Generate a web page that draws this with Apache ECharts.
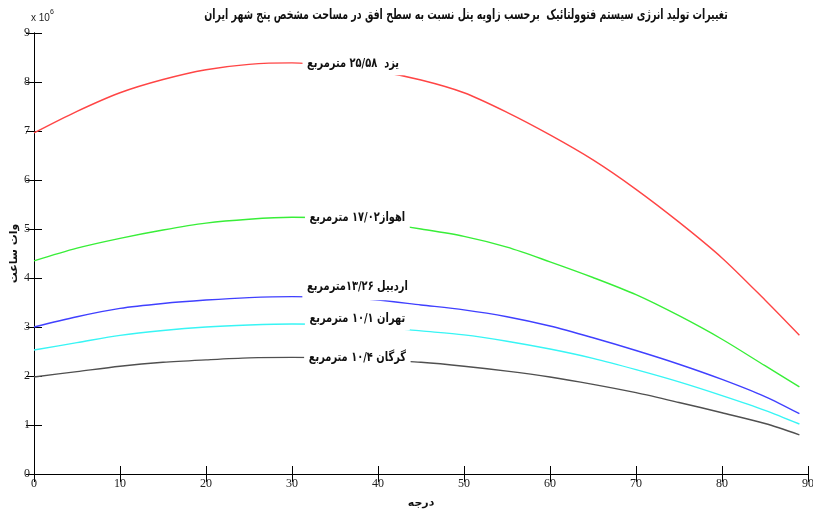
<!DOCTYPE html>
<html><head><meta charset="utf-8">
<script src="https://cdn.jsdelivr.net/npm/echarts@6/dist/echarts.min.js"></script>
<style>html,body{margin:0;padding:0;background:#fff}#c{width:813px;height:513px}</style>
</head><body><div id="c"></div>
<script>
const angles = [0,5,10,15,20,25,30,35,40,45,50,55,60,65,70,75,80,85,89];
const yazd    = [6.96,7.40,7.78,8.05,8.25,8.36,8.39,8.33,8.22,8.04,7.78,7.38,6.92,6.41,5.81,5.14,4.41,3.55,2.83];
const ahvaz   = [4.35,4.61,4.81,4.98,5.12,5.20,5.24,5.22,5.13,5.00,4.85,4.63,4.33,4.01,3.66,3.23,2.75,2.21,1.78];
const ardabil = [3.00,3.21,3.38,3.48,3.55,3.60,3.62,3.60,3.55,3.45,3.35,3.21,3.02,2.78,2.52,2.24,1.93,1.58,1.23];
const tehran  = [2.53,2.68,2.83,2.93,3.00,3.04,3.06,3.05,3.00,2.92,2.84,2.71,2.55,2.36,2.13,1.88,1.60,1.30,1.02];
const gorgan  = [1.98,2.09,2.20,2.28,2.33,2.37,2.38,2.37,2.33,2.28,2.20,2.10,1.98,1.83,1.66,1.46,1.25,1.03,0.80];
const names = ['یزد  ۲۵/۵۸ مترمربع','اهواز۱۷/۰۲ مترمربع','اردبیل ۱۳/۲۶مترمربع','تهران ۱۰/۱ مترمربع','گرگان ۱۰/۴ مترمربع'];
const titleText = 'تغییرات تولید انرژی سیستم فتوولتائیک  برحسب زاویه پنل نسبت به سطح افق در مساحت مشخص پنج شهر ایران';
const xName = 'درجه';
const yName = 'وات ساعت';

const allSeries = [yazd, ahvaz, ardabil, tehran, gorgan];
const colors = ['#ff4545','#38ee38','#4040ff','#38f5f5','#505050'];
// label placement in data coordinates (layout, not data)
const labelPos = [
  {x:37.1, y:8.37, pad:[4,6,6,6]},
  {x:37.6, y:5.23, pad:[4,6,6,6]},
  {x:37.6, y:3.83, pad:[3,6,12,6]},
  {x:37.6, y:3.18, pad:[3,6,8,6]},
  {x:37.6, y:2.38, pad:[4,6,5,6]}
];
const persianFont = 'DejaVu Sans';
const chart = echarts.init(document.getElementById('c'), null, {renderer:'canvas'});
const axisCommon = {
  type:'value', min:0,
  axisLine:{show:true, lineStyle:{color:'#000', width:1}},
  axisTick:{show:true, inside:true, length:8, lineStyle:{color:'#000'}},
  splitLine:{show:false}
};
const tickFont = 'Liberation Sans Narrow';
chart.setOption({
  animation:false,
  backgroundColor:'#fff',
  grid:{left:34, right:5, top:33, bottom:39, containLabel:false, outerBoundsMode:'none'},
  xAxis:[
    Object.assign({}, axisCommon, {max:90, interval:10, position:'bottom',
      name:xName, nameLocation:'middle', nameGap:24, nameMoveOverlap:false,
      nameTextStyle:{fontFamily:persianFont, fontWeight:'bold', fontSize:11, color:'#111'},
      axisLabel:{fontFamily:tickFont, fontSize:12, color:'#222', margin:4}}),
    Object.assign({}, axisCommon, {max:90, interval:10, position:'top', axisLabel:{show:false}})
  ],
  yAxis:[
    Object.assign({}, axisCommon, {max:9, interval:1, position:'left',
      name:yName, nameLocation:'middle', nameGap:14, nameRotate:90, nameMoveOverlap:false,
      nameTextStyle:{fontFamily:persianFont, fontWeight:'bold', fontSize:11, color:'#111'},
      axisLabel:{fontFamily:tickFont, fontSize:12, color:'#222', margin:4}}),
    Object.assign({}, axisCommon, {max:9, interval:1, position:'right', axisLabel:{show:false}})
  ],
  series: allSeries.map((vals, i) => ({
    type:'line', name:names[i],
    data: angles.map((a, k) => [a, vals[k]]),
    showSymbol:false, smooth:0.3,
    lineStyle:{color:colors[i], width:1.4},
    itemStyle:{color:colors[i]},
    z: 2
  }))
});

const graphics = [
  {type:'text', x:466, y:15, scaleX:0.675, z:10,
    style:{text:titleText, font:'bold 14px "DejaVu Sans"', fill:'#111', align:'center', verticalAlign:'middle'}},
  {type:'text', x:31, y:7, z:10,
    style:{text:'{a|x 10}{b|6}', rich:{a:{fontFamily:'Liberation Sans', fontSize:10, fill:'#222', padding:[6,0,0,0]}, b:{fontFamily:'Liberation Sans', fontSize:7, fill:'#222', padding:[0,0,6,0]}}}}
];
labelPos.forEach((p, i) => {
  const pt = chart.convertToPixel({xAxisIndex:0, yAxisIndex:0}, [p.x, p.y]);
  graphics.push({type:'text', x:pt[0], y:pt[1], scaleX:0.76, z:20,
    style:{text:names[i], font:'bold 13px "DejaVu Sans"', fill:'#111', align:'center', verticalAlign:'middle',
      backgroundColor:'#fff', padding:p.pad}});
});
chart.setOption({graphic:graphics});
</script></body></html>
